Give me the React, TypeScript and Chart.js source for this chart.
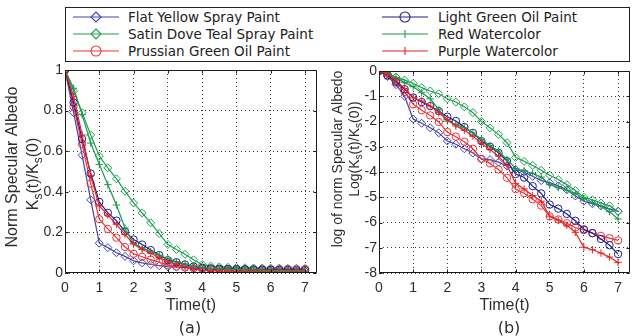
import React, { useEffect, useRef } from 'react';
import { Chart, registerables } from 'chart.js';
Chart.register(...registerables);

// ---------- data ----------
const times = [0, 0.25, 0.5, 0.75, 1, 1.25, 1.5, 1.75, 2, 2.25, 2.5, 2.75, 3, 3.25, 3.5, 3.75, 4, 4.25, 4.5, 4.75, 5, 5.25, 5.5, 5.75, 6, 6.25, 6.5, 6.75, 7];

const seriesNames = ['Flat Yellow Spray Paint', 'Satin Dove Teal Spray Paint', 'Prussian Green Oil Paint', 'Light Green Oil Paint', 'Red Watercolor', 'Purple Watercolor'];

// (a) normalised specular albedo
const flatYellowNorm = [1, 0.79, 0.58, 0.36, 0.147, 0.125, 0.10, 0.082, 0.06, 0.05, 0.042, 0.036, 0.031, 0.029, 0.027, 0.025, 0.022, 0.02, 0.018, 0.016, 0.015, 0.014, 0.013, 0.012, 0.012, 0.011, 0.011, 0.010, 0.010];
const satinDoveNorm = [1, 0.896, 0.79, 0.68, 0.576, 0.518, 0.464, 0.403, 0.345, 0.296, 0.247, 0.194, 0.14, 0.116, 0.092, 0.065, 0.042, 0.034, 0.030, 0.028, 0.027, 0.026, 0.025, 0.025, 0.024, 0.024, 0.023, 0.023, 0.022];
const prussianNorm = [1, 0.82, 0.635, 0.44, 0.265, 0.217, 0.174, 0.128, 0.095, 0.08, 0.066, 0.053, 0.039, 0.032, 0.027, 0.023, 0.02, 0.019, 0.019, 0.018, 0.018, 0.018, 0.018, 0.018, 0.018, 0.019, 0.019, 0.019, 0.02];
const lightGreenNorm = [1, 0.84, 0.66, 0.49, 0.35, 0.296, 0.258, 0.204, 0.165, 0.14, 0.113, 0.088, 0.063, 0.053, 0.042, 0.032, 0.026, 0.023, 0.021, 0.02, 0.019, 0.018, 0.017, 0.016, 0.016, 0.015, 0.015, 0.014, 0.014];
const redWaterNorm = [1, 0.91, 0.78, 0.64, 0.535, 0.435, 0.335, 0.222, 0.145, 0.123, 0.106, 0.088, 0.07, 0.056, 0.045, 0.034, 0.026, 0.023, 0.021, 0.019, 0.017, 0.016, 0.015, 0.014, 0.013, 0.013, 0.012, 0.012, 0.011];
const purpleWaterNorm = [1, 0.87, 0.68, 0.48, 0.33, 0.285, 0.24, 0.19, 0.143, 0.116, 0.097, 0.076, 0.055, 0.043, 0.032, 0.022, 0.013, 0.011, 0.01, 0.009, 0.008, 0.007, 0.007, 0.006, 0.006, 0.005, 0.005, 0.005, 0.005];

// (b) log of normalised specular albedo
const flatYellowLog = [0, -0.22, -0.54, -1.0, -1.9, -2.07, -2.25, -2.45, -2.77, -2.9, -3.08, -3.25, -3.48, -3.51, -3.61, -3.77, -3.9, -4.01, -4.17, -4.34, -4.42, -4.55, -4.7, -4.95, -5.16, -5.26, -5.34, -5.47, -5.56];
const satinDoveLog = [0, -0.13, -0.24, -0.36, -0.49, -0.66, -0.79, -0.9, -1.1, -1.23, -1.42, -1.65, -2.0, -2.25, -2.51, -2.84, -3.42, -3.58, -3.74, -3.93, -4.13, -4.3, -4.5, -4.73, -5.0, -5.1, -5.23, -5.34, -5.55];
const prussianLog = [0, -0.2, -0.46, -0.83, -1.32, -1.55, -1.76, -2.02, -2.42, -2.6, -2.8, -3.08, -3.48, -3.66, -3.9, -4.23, -4.68, -4.84, -5.08, -5.33, -5.76, -5.88, -6.03, -6.2, -6.3, -6.42, -6.53, -6.62, -6.71];
const lightGreenLog = [0, -0.17, -0.42, -0.72, -1.05, -1.23, -1.39, -1.59, -1.81, -1.98, -2.22, -2.45, -2.78, -3.0, -3.24, -3.57, -4.08, -4.22, -4.56, -4.85, -5.29, -5.45, -5.66, -5.93, -6.27, -6.42, -6.65, -6.9, -7.25];
const redWaterLog = [0, -0.09, -0.26, -0.46, -0.62, -0.86, -1.1, -1.52, -1.98, -2.12, -2.25, -2.45, -2.71, -2.95, -3.17, -3.5, -3.86, -3.95, -4.06, -4.2, -4.5, -4.62, -4.72, -4.86, -5.05, -5.22, -5.36, -5.57, -5.86];
const purpleWaterLog = [0, -0.13, -0.36, -0.7, -1.06, -1.19, -1.39, -1.65, -1.92, -2.18, -2.34, -2.58, -2.87, -3.11, -3.37, -3.74, -4.45, -4.67, -4.93, -5.16, -5.75, -5.91, -6.11, -6.39, -6.98, -7.08, -7.21, -7.37, -7.58];

const xTicks = [0, 1, 2, 3, 4, 5, 6, 7];
const normTicks = [0, 0.2, 0.4, 0.6, 0.8, 1];
const logTicks = [-8, -7, -6, -5, -4, -3, -2, -1, 0];

// ---------- styles ----------
const colors = ['#4545b0', '#1fa04c', '#ee3535', '#1e1e92', '#1a9a4a', '#e42424'];
const markers: ('rectRot' | 'circle' | 'cross')[] = ['rectRot', 'rectRot', 'circle', 'circle', 'cross', 'cross'];
const markerRadius = [4, 4, 3.7, 3.7, 3.7, 3.7];
const normSeries = [flatYellowNorm, satinDoveNorm, prussianNorm, lightGreenNorm, redWaterNorm, purpleWaterNorm];
const logSeries = [flatYellowLog, satinDoveLog, prussianLog, lightGreenLog, redWaterLog, purpleWaterLog];

const SANS = '"Liberation Sans", Arial, Helvetica, sans-serif';
const DEJAVU = '"DejaVu Sans", Verdana, sans-serif';
const TEXT = '#2e2e2e';

type Seg = { t: string; sub?: boolean };
type TitleLine = { segs: Seg[]; x: number; y: number; size: number };

function drawRotated(ctx: CanvasRenderingContext2D, line: TitleLine) {
  ctx.save();
  ctx.translate(line.x, line.y);
  ctx.rotate(-Math.PI / 2);
  ctx.textBaseline = 'middle';
  ctx.textAlign = 'left';
  ctx.fillStyle = TEXT;
  const fontFor = (s: Seg) => `${s.sub ? Math.round(line.size * 0.72) : line.size}px ${SANS}`;
  const widths = line.segs.map((s) => {
    ctx.font = fontFor(s);
    return ctx.measureText(s.t).width;
  });
  const total = widths.reduce((a, b) => a + b, 0);
  let x = -total / 2;
  line.segs.forEach((s, i) => {
    ctx.font = fontFor(s);
    ctx.fillText(s.t, x, s.sub ? line.size * 0.32 : 0);
    x += widths[i];
  });
  ctx.restore();
}

const framePlugin = {
  id: 'frame',
  afterDraw(chart: any, _args: any, opts: any) {
    const { ctx, chartArea: a, scales } = chart;
    ctx.save();
    ctx.strokeStyle = '#1a1a1a';
    ctx.lineWidth = 1;
    const L = Math.round(a.left) + 0.5;
    const T = Math.round(a.top) + 0.5;
    const R = Math.round(a.right) - 0.5;
    const B = Math.round(a.bottom) - 0.5;
    ctx.beginPath();
    ctx.rect(L, T, R - L, B - T);
    for (const v of opts.xTicks || []) {
      const px = Math.round(scales.x.getPixelForValue(v)) + 0.5;
      ctx.moveTo(px, B); ctx.lineTo(px, B - 3);
      ctx.moveTo(px, T); ctx.lineTo(px, T + 3);
    }
    for (const v of opts.yTicks || []) {
      const py = Math.round(scales.y.getPixelForValue(v)) + 0.5;
      ctx.moveTo(L, py); ctx.lineTo(L + 3, py);
      ctx.moveTo(R, py); ctx.lineTo(R - 3, py);
    }
    ctx.stroke();
    ctx.restore();
    for (const line of opts.titles || []) drawRotated(ctx, line);
  },
};

type PlotProps = {
  left: number;
  width: number;
  series: number[][];
  yMin: number;
  yMax: number;
  yTickValues: number[];
  yAxisWidth: number;
  top: number;
  rightPad: number;
  titles: TitleLine[];
  fmt: (v: number) => string;
};

function Plot(p: PlotProps) {
  const ref = useRef<HTMLCanvasElement>(null);
  useEffect(() => {
    if (!ref.current) return;
    const datasets = p.series.map((vals, i) => ({
      label: seriesNames[i],
      data: times.map((t, j) => ({ x: t, y: vals[j] })),
      borderColor: colors[i],
      backgroundColor: 'rgba(0,0,0,0)',
      borderWidth: 1.2,
      pointStyle: markers[i],
      pointRadius: markerRadius[i],
      pointBorderWidth: 1,
      pointBorderColor: colors[i],
      pointBackgroundColor: 'rgba(0,0,0,0)',
      tension: 0,
      order: 6 - i,
    }));
    const chart = new Chart(ref.current, {
      type: 'line',
      data: { datasets },
      plugins: [framePlugin],
      options: {
        animation: false,
        responsive: false,
        events: [],
        layout: { padding: { top: p.top, right: p.rightPad, left: 0, bottom: 0 } },
        plugins: {
          legend: { display: false },
          tooltip: { enabled: false },
          frame: { xTicks, yTicks: p.yTickValues, titles: p.titles },
        } as any,
        scales: {
          x: {
            type: 'linear',
            min: 0,
            max: 7.35,
            afterBuildTicks: (s: any) => {
              s.ticks = xTicks.map((v) => ({ value: v }));
            },
            afterFit: (s: any) => {
              s.height = 63;
            },
            ticks: { color: TEXT, font: { family: SANS, size: 14 }, padding: 7, maxRotation: 0, autoSkip: false, callback: (v: any) => String(v) },
            grid: { color: '#3a3a3a', lineWidth: 1, drawTicks: false },
            border: { display: false, dash: [1, 3] },
            title: { display: true, text: 'Time(t)', color: TEXT, font: { family: SANS, size: 16 }, padding: { top: 0, bottom: 21 } },
          },
          y: {
            type: 'linear',
            min: p.yMin,
            max: p.yMax,
            afterBuildTicks: (s: any) => {
              s.ticks = p.yTickValues.map((v) => ({ value: v }));
            },
            afterFit: (s: any) => {
              s.width = p.yAxisWidth;
            },
            ticks: { color: TEXT, font: { family: SANS, size: 14 }, padding: 2, autoSkip: false, callback: (v: any) => p.fmt(Number(v)) },
            grid: { color: '#3a3a3a', lineWidth: 1, drawTicks: false },
            border: { display: false, dash: [1, 3] },
          },
        },
      } as any,
    });
    return () => chart.destroy();
  }, []);
  return (
    <canvas
      ref={ref}
      width={p.width}
      height={336}
      style={{ position: 'absolute', left: p.left, top: 0, width: p.width, height: 336 }}
    />
  );
}

function LegendMarker({ i }: { i: number }) {
  const c = colors[i];
  const cx = 23;
  const cy = 6;
  let m: React.ReactNode = null;
  if (markers[i] === 'rectRot') {
    m = <polygon points={`${cx},${cy - 5} ${cx + 5},${cy} ${cx},${cy + 5} ${cx - 5},${cy}`} fill="none" stroke={c} strokeWidth={1.1} />;
  } else if (markers[i] === 'circle') {
    m = <circle cx={cx} cy={cy} r={5} fill="none" stroke={c} strokeWidth={1.1} />;
  } else {
    m = <line x1={cx} y1={cy - 4} x2={cx} y2={cy + 4} stroke={c} strokeWidth={1.1} />;
  }
  return (
    <svg width={46} height={12} style={{ position: 'absolute', left: 0, top: 0, overflow: 'visible' }}>
      <line x1={0} y1={cy} x2={46} y2={cy} stroke={c} strokeWidth={1.1} />
      {m}
    </svg>
  );
}

export default function App() {
  const rowsY = [16.7, 33.7, 51];
  const legendPos = [
    { lx: 73, tx: 128, row: 0 },
    { lx: 73, tx: 128, row: 1 },
    { lx: 73, tx: 128, row: 2 },
    { lx: 382, tx: 438, row: 0 },
    { lx: 382, tx: 438, row: 1 },
    { lx: 382, tx: 438, row: 2 },
  ];
  const fmtNorm = (v: number) => String(Number(v.toFixed(1)));
  const fmtLog = (v: number) => String(Math.round(v));
  return (
    <div style={{ position: 'fixed', left: 0, top: 0, width: 635, height: 336, background: '#fff', overflow: 'hidden' }}>
      <Plot
        left={0}
        width={322}
        series={normSeries}
        yMin={0}
        yMax={1}
        yTickValues={normTicks}
        yAxisWidth={65}
        top={70}
        rightPad={4}
        fmt={fmtNorm}
        titles={[
          { segs: [{ t: 'Norm Specular Albedo' }], x: 13, y: 167, size: 16 },
          { segs: [{ t: 'K' }, { t: 's', sub: true }, { t: '(t)/K' }, { t: 's', sub: true }, { t: '(0)' }], x: 34, y: 174, size: 16 },
        ]}
      />
      <Plot
        left={322}
        width={313}
        series={logSeries}
        yMin={-8}
        yMax={0}
        yTickValues={logTicks}
        yAxisWidth={57}
        top={71}
        rightPad={3}
        fmt={fmtLog}
        titles={[
          { segs: [{ t: 'log of norm Specular Albedo' }], x: 16, y: 159, size: 14 },
          { segs: [{ t: 'Log(K' }, { t: 's', sub: true }, { t: '(t)/K' }, { t: 's', sub: true }, { t: '(0))' }], x: 33, y: 149, size: 14 },
        ]}
      />
      <div style={{ position: 'absolute', left: 65, top: 7, width: 563, height: 53, border: '1px solid #222', background: '#fff' }} />
      {seriesNames.map((name, i) => {
        const p = legendPos[i];
        const y = rowsY[p.row];
        return (
          <React.Fragment key={name}>
            <div style={{ position: 'absolute', left: p.lx, top: y - 6, width: 46, height: 12 }}>
              <LegendMarker i={i} />
            </div>
            <div
              style={{
                position: 'absolute',
                left: p.tx,
                top: y - 9,
                height: 18,
                lineHeight: '18px',
                fontFamily: DEJAVU,
                fontSize: 13.5,
                color: '#222',
                whiteSpace: 'nowrap',
              }}
            >
              {name}
            </div>
          </React.Fragment>
        );
      })}
      <div style={{ position: 'absolute', left: 150, width: 80, top: 318, textAlign: 'center', fontFamily: DEJAVU, fontSize: 16, lineHeight: '20px', color: TEXT }}>(a)</div>
      <div style={{ position: 'absolute', left: 469, width: 80, top: 318, textAlign: 'center', fontFamily: DEJAVU, fontSize: 16, lineHeight: '20px', color: TEXT }}>(b)</div>
    </div>
  );
}
